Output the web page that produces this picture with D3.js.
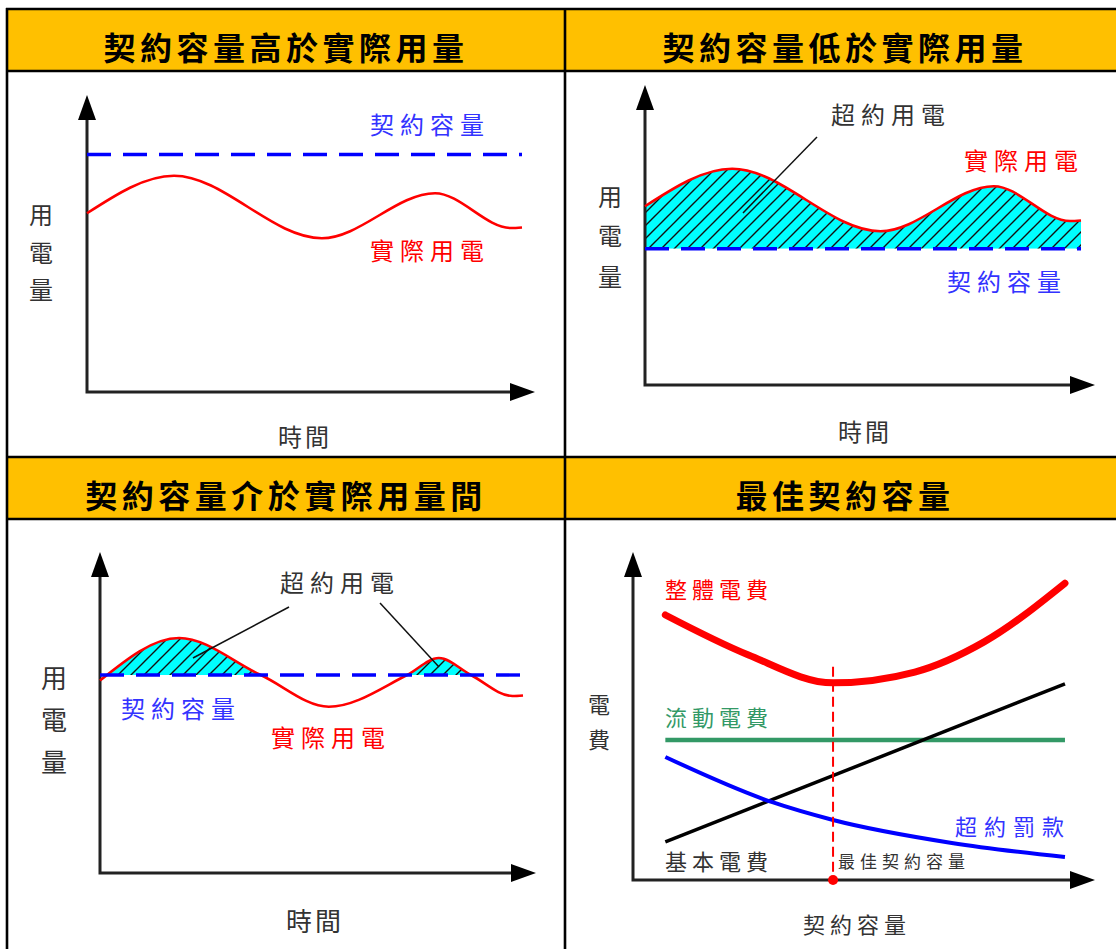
<!DOCTYPE html>
<html>
<head>
<meta charset="utf-8">
<script src="https://cdn.jsdelivr.net/npm/d3@7"></script>
<style>
  body { margin: 0; background: #fff; }
  text { font-family: "Noto Sans CJK TC", "Noto Sans CJK JP", sans-serif; }
</style>
</head>
<body>
<div id="chart"></div>
<script>
const titles = ["契約容量高於實際用量", "契約容量低於實際用量", "契約容量介於實際用量間", "最佳契約容量"];

// top panels: time 0-10, usage 0-10 (same usage curve, different contract capacity)
const usageTime = [0, 2.0, 5.4, 8.0, 9.75, 10];
const usageValue = [7.15, 8.65, 6.15, 7.95, 6.56, 6.58];
const capacityHigh = 9.5;
const capacityLow = 5.45;

// bottom-left panel
const usage3Time = [0, 1.87, 3.8, 5.41, 7.26, 8.01, 8.77, 9.75, 10];
const usage3Value = [7.7, 9.4, 7.92, 6.65, 7.92, 8.6, 7.92, 7.08, 7.1];
const capacityMid = 7.92;

// bottom-right panel: x = contract capacity (0-100), y = cost (0-100)
const totalX = [7, 25, 43.3, 61, 76, 93.5];
const totalCost = [80.8, 68.6, 60.1, 63.4, 72.6, 90.5];
const penaltyX = [7, 30, 43.3, 69, 93.5];
const penaltyCost = [37.5, 23.8, 18.3, 11.3, 7.0];
const basicX = [7, 93.5];
const basicCost = [11.6, 59.8];
const flowX = [7, 93.5];
const flowCost = [42.7, 42.7];
const optimalCapacity = 43.3;

const W = 1116, H = 949;
const RED = "#ff0000", BLUE = "#0000ff", LBLUE = "#3333ff", GREEN = "#339966", INK = "#222";

const svg = d3.select("#chart").append("svg")
    .attr("width", W)
    .attr("height", H);

const defs = svg.append("defs");
const pat = defs.append("pattern")
    .attr("id", "hatch")
    .attr("patternUnits", "userSpaceOnUse")
    .attr("width", 13)
    .attr("height", 13);
pat.append("rect").attr("width", 13).attr("height", 13).attr("fill", "#00ffff");
pat.append("path")
    .attr("d", "M-3,3L3,-3M0,13L13,0M10,16L16,10")
    .attr("stroke", "#111")
    .attr("stroke-width", 1.4);

// grid frame + headers
[[10, 70], [458, 518]].forEach(([a, b]) => {
    svg.append("rect").attr("x", 7).attr("y", a).attr("width", W).attr("height", b - a).attr("fill", "#ffc000");
});
[9, 71, 457, 519].forEach(y => {
    svg.append("line").attr("x1", 6).attr("x2", W).attr("y1", y).attr("y2", y)
        .attr("stroke", "#000").attr("stroke-width", 2.6);
});
[7, 565].forEach(x => {
    svg.append("line").attr("x1", x).attr("x2", x).attr("y1", 8).attr("y2", H)
        .attr("stroke", "#000").attr("stroke-width", 2.6);
});

const titlePos = [[286, 60], [845, 60], [286, 508], [845, 508]];
titles.forEach((t, i) => {
    svg.append("text")
        .attr("x", titlePos[i][0])
        .attr("y", titlePos[i][1])
        .attr("text-anchor", "middle")
        .attr("font-size", 32)
        .attr("font-weight", 700)
        .attr("letter-spacing", 4.5)
        .attr("fill", "#000")
        .text(t);
});

function label(x, y, str, size, color, spacing, anchor) {
    return svg.append("text")
        .attr("x", x).attr("y", y)
        .attr("font-size", size)
        .attr("fill", color)
        .attr("letter-spacing", spacing || 0)
        .attr("text-anchor", anchor || "start")
        .text(str);
}

function vlabel(x, ys, str, size) {
    str.split("").forEach((c, i) => {
        label(x, ys[i] + size * 0.38, c, size, "#333", 0, "middle");
    });
}

function axes(x0, y0, xTip, yTip) {
    const g = svg.append("g");
    g.append("path")
        .attr("d", `M${x0},${yTip + 20}V${y0}H${xTip - 20}`)
        .attr("fill", "none")
        .attr("stroke", INK)
        .attr("stroke-width", 3);
    g.append("path")
        .attr("d", `M${x0},${yTip}L${x0 - 9},${yTip + 25}L${x0 + 9},${yTip + 25}Z`)
        .attr("fill", "#000");
    g.append("path")
        .attr("d", `M${xTip},${y0}L${xTip - 25},${y0 - 9}L${xTip - 25},${y0 + 9}Z`)
        .attr("fill", "#000");
}

function usagePanel(cfg) {
    const x = d3.scaleLinear().domain([0, 10]).range(cfg.xr);
    const y = d3.scaleLinear().domain([0, 10]).range(cfg.yr);
    const pts = cfg.t.map((t, i) => [t, cfg.v[i]]);

    if (cfg.fill) {
        const id = "clip" + cfg.id;
        defs.append("clipPath").attr("id", id)
            .append("rect")
            .attr("x", x(0)).attr("y", y(12))
            .attr("width", x(10) - x(0))
            .attr("height", y(cfg.cap) - y(12));
        const area = d3.area()
            .x(d => x(d[0]))
            .y0(y(cfg.cap))
            .y1(d => y(d[1]))
            .curve(d3.curveMonotoneX);
        svg.append("path")
            .datum(pts)
            .attr("d", area)
            .attr("fill", "url(#hatch)")
            .attr("clip-path", `url(#${id})`);
    }

    axes(cfg.x0, cfg.y0, cfg.xTip, cfg.yTip);

    const line = d3.line()
        .x(d => x(d[0]))
        .y(d => y(d[1]))
        .curve(d3.curveMonotoneX);
    svg.append("path")
        .datum(pts)
        .attr("d", line)
        .attr("fill", "none")
        .attr("stroke", RED)
        .attr("stroke-width", 2.6);

    svg.append("line")
        .attr("x1", x(0)).attr("x2", x(10))
        .attr("y1", y(cfg.cap)).attr("y2", y(cfg.cap))
        .attr("stroke", BLUE)
        .attr("stroke-width", 3.4)
        .attr("stroke-dasharray", "24,12");
}

// panel 1
usagePanel({ id: 1, xr: [87, 522], yr: [392, 142], x0: 87, y0: 392, xTip: 535, yTip: 95,
    t: usageTime, v: usageValue, cap: capacityHigh, fill: false });
label(370, 134, "契約容量", 24, LBLUE, 6);
label(370, 260, "實際用電", 24, RED, 6);
vlabel(41, [215, 253, 290], "用電量", 24);
label(305, 446, "時間", 24, "#333", 3, "middle");

// panel 2
usagePanel({ id: 2, xr: [645, 1081], yr: [385, 135], x0: 645, y0: 385, xTip: 1095, yTip: 85,
    t: usageTime, v: usageValue, cap: capacityLow, fill: true });
svg.append("line").attr("x1", 817).attr("y1", 137).attr("x2", 743).attr("y2", 213)
    .attr("stroke", "#111").attr("stroke-width", 1.5);
label(831, 124, "超約用電", 24, "#333", 6);
label(964, 170, "實際用電", 24, RED, 6);
label(947, 291, "契約容量", 24, LBLUE, 6);
vlabel(610, [197, 236, 277], "用電量", 24);
label(865, 441, "時間", 24, "#333", 3, "middle");

// panel 3
usagePanel({ id: 3, xr: [100, 523], yr: [873, 623], x0: 100, y0: 873, xTip: 536, yTip: 552,
    t: usage3Time, v: usage3Value, cap: capacityMid, fill: true });
svg.append("line").attr("x1", 289).attr("y1", 607).attr("x2", 193).attr("y2", 658)
    .attr("stroke", "#111").attr("stroke-width", 1.5);
svg.append("line").attr("x1", 380).attr("y1", 603).attr("x2", 439).attr("y2", 667)
    .attr("stroke", "#111").attr("stroke-width", 1.5);
label(280, 592, "超約用電", 24, "#333", 6);
label(121, 718, "契約容量", 24, LBLUE, 6);
label(271, 747, "實際用電", 24, RED, 6);
vlabel(54, [678, 720, 762], "用電量", 26);
label(315, 931, "時間", 26, "#333", 3, "middle");

// panel 4
{
    const x = d3.scaleLinear().domain([0, 100]).range([633, 1095]);
    const y = d3.scaleLinear().domain([0, 100]).range([880, 552]);
    const line = d3.line().x(d => x(d[0])).y(d => y(d[1]));
    const curved = d3.line().x(d => x(d[0])).y(d => y(d[1])).curve(d3.curveMonotoneX);

    axes(633, 880, 1095, 552);

    svg.append("path")
        .datum(flowX.map((v, i) => [v, flowCost[i]]))
        .attr("d", line)
        .attr("fill", "none").attr("stroke", GREEN).attr("stroke-width", 4.5);
    svg.append("path")
        .datum(basicX.map((v, i) => [v, basicCost[i]]))
        .attr("d", line)
        .attr("fill", "none").attr("stroke", "#000").attr("stroke-width", 3.5);
    svg.append("path")
        .datum(penaltyX.map((v, i) => [v, penaltyCost[i]]))
        .attr("d", curved)
        .attr("fill", "none").attr("stroke", BLUE).attr("stroke-width", 4);
    svg.append("path")
        .datum(totalX.map((v, i) => [v, totalCost[i]]))
        .attr("d", curved)
        .attr("fill", "none").attr("stroke", RED).attr("stroke-width", 7)
        .attr("stroke-linecap", "round");

    svg.append("line")
        .attr("x1", x(optimalCapacity)).attr("x2", x(optimalCapacity))
        .attr("y1", y(65)).attr("y2", y(0))
        .attr("stroke", RED).attr("stroke-width", 2)
        .attr("stroke-dasharray", "10,5");
    svg.append("circle")
        .attr("cx", x(optimalCapacity)).attr("cy", y(0)).attr("r", 5)
        .attr("fill", RED);

    label(665, 598, "整體電費", 22, RED, 5);
    label(665, 726, "流動電費", 22, GREEN, 5);
    label(955, 835, "超約罰款", 22, LBLUE, 7);
    label(665, 870, "基本電費", 22, "#333", 5);
    label(838, 868, "最佳契約容量", 17, "#333", 5);
    vlabel(599, [705, 740], "電費", 22);
    label(857, 933, "契約容量", 22, "#333", 5, "middle");
}
</script>
</body>
</html>
